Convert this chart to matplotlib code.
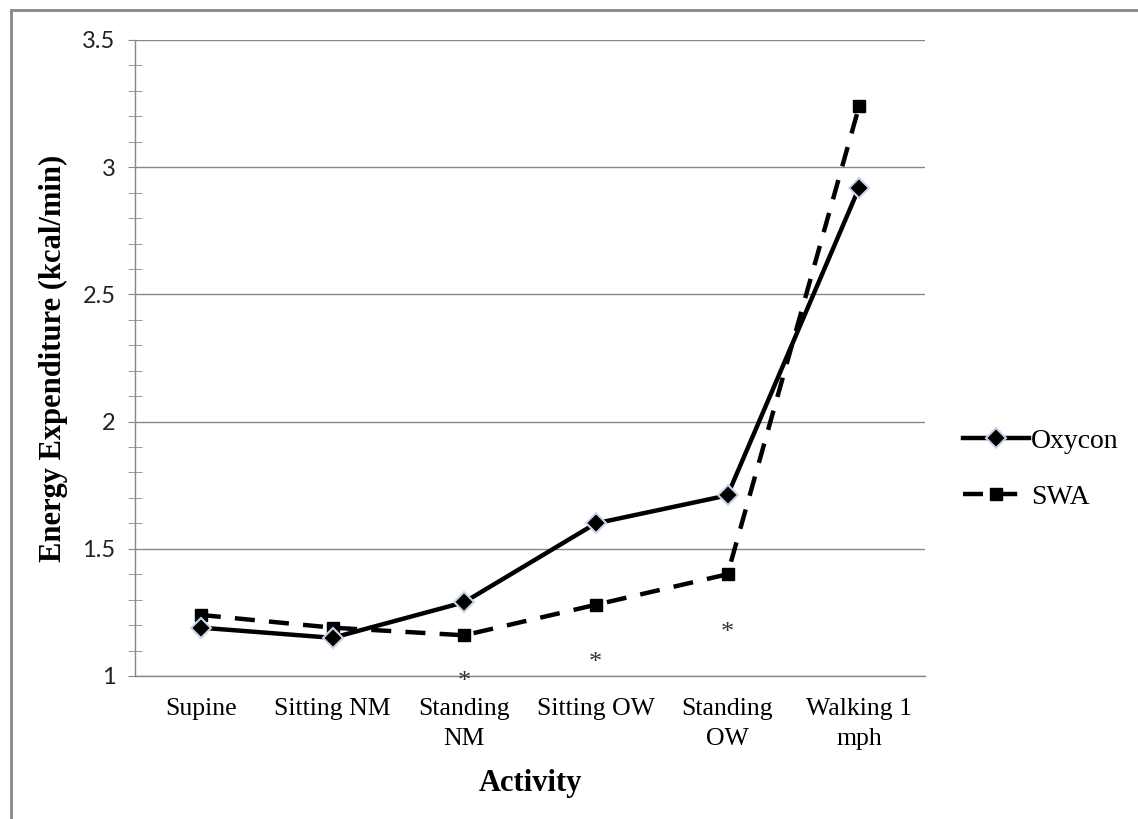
import numpy as np
import matplotlib
matplotlib.use("Agg")
import matplotlib.pyplot as plt
from matplotlib.ticker import MultipleLocator
from matplotlib.patches import Rectangle

# data
activities = ["Supine", "Sitting NM", "Standing\nNM", "Sitting OW", "Standing\nOW", "Walking 1\nmph"]
oxycon = [1.19, 1.15, 1.29, 1.60, 1.71, 2.92]
swa = [1.24, 1.19, 1.16, 1.28, 1.40, 3.24]
star_idx = [2, 3, 4]
star_y = [0.975, 1.05, 1.17]

serif = "Liberation Serif"
sans = "Lato"

fig = plt.figure(figsize=(11.38, 8.19), dpi=100)
ax = fig.add_axes([135/1138, 1-676/819, 790/1138, 636/819])

x = np.arange(len(activities))

# lines
ax.plot(x, oxycon, color="black", lw=3.2, marker="D", ms=10,
        mfc="black", mec="#c9d6ea", mew=1.5, label="Oxycon", zorder=4)
ax.plot(x, swa, color="black", lw=3.2, ls=(0, (4.5, 3.2)), marker="s", ms=9,
        mfc="black", mec="black", mew=1, label="SWA", zorder=3)

# significance stars
for i, yv in zip(star_idx, star_y):
	ax.text(i, yv, "*", family=serif, fontsize=19, ha="center", va="center",
	        color="#333333", clip_on=False, zorder=5)

# axes settings
ax.set_xlim(-0.5, len(activities)-0.5)
ax.set_ylim(1, 3.5)
ax.yaxis.set_major_locator(MultipleLocator(0.5))
ax.yaxis.set_minor_locator(MultipleLocator(0.1))
ax.yaxis.set_major_formatter(plt.FuncFormatter(lambda v, p: "%g" % v))
ax.grid(axis="y", which="major", color="#878787", lw=1)
ax.set_axisbelow(True)

ax.set_xticks(x)
ax.set_xticklabels(activities, family=serif, fontsize=18.5, linespacing=1.45)
ax.tick_params(axis="x", length=0, pad=16)
ax.tick_params(axis="y", which="major", direction="out", length=5, color="#878787",
               labelsize=17, pad=9, labelcolor="#222222")
ax.tick_params(axis="y", which="minor", direction="inout", length=9.5, color="#878787")
for lab in ax.get_yticklabels():
	lab.set_family(sans)

for s in ["top", "right"]:
	ax.spines[s].set_visible(False)
for s in ["left", "bottom"]:
	ax.spines[s].set_color("#878787")
	ax.spines[s].set_linewidth(1)

ax.set_ylabel("Energy Expenditure (kcal/min)", family=serif, fontsize=22,
              fontweight="bold", labelpad=10)
ax.set_xlabel("Activity", family=serif, fontsize=22, fontweight="bold", labelpad=14)

# legend
leg = ax.legend(loc="center left", bbox_to_anchor=(1.017, 0.325), frameon=False,
                prop={"family": serif, "size": 20}, handlelength=2.35,
                handletextpad=0.08, labelspacing=1.1)

# outer chart border
fig.patches.append(Rectangle((11/1138, -0.1), 1.2, 1-10/819+0.1, transform=fig.transFigure,
                             fill=False, ec="#878787", lw=2))

fig.savefig("out.png", dpi=100)
